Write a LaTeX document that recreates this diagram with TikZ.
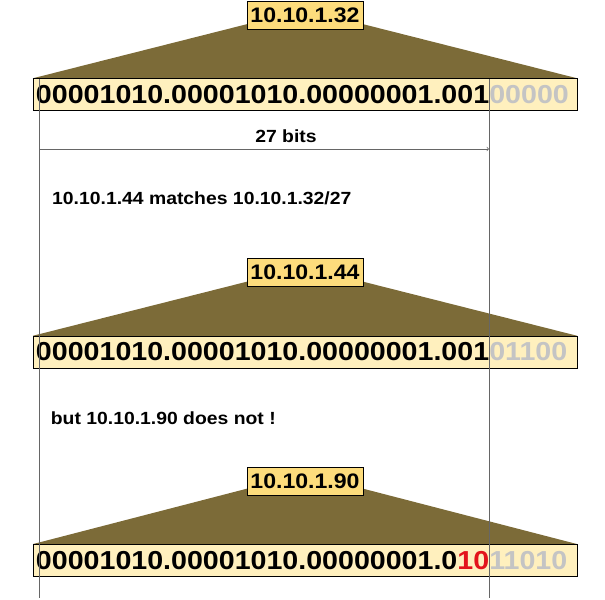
\documentclass[tikz,border=0pt]{standalone}
\usepackage{fontspec}
\setmainfont{Liberation Sans}[FakeStretch=1.1]
\usetikzlibrary{backgrounds}
\definecolor{cone}{HTML}{7C6B38}
\definecolor{addrfill}{HTML}{FDDC7C}
\definecolor{bitsfill}{HTML}{FFF0BE}
\definecolor{hostbits}{HTML}{C4C4C4}
\definecolor{badbits}{HTML}{E3141B}

\begin{document}
\begin{tikzpicture}[x=1bp, y=-1bp,
	addr/.style={draw, fill=addrfill, minimum width=116bp, minimum height=28bp, inner sep=0pt, font=\fontsize{21bp}{24bp}\selectfont\bfseries},
	bits/.style={draw, fill=bitsfill, minimum height=32bp, text width=538bp, align=left, inner xsep=3bp, inner ysep=0pt, font=\fontsize{26bp}{30bp}\selectfont\bfseries},
	note/.style={inner sep=0pt, font=\fontsize{17.6bp}{20bp}\selectfont\bfseries},
	cut/.style={draw=black!60, line width=0.7bp}]
	\useasboundingbox (0,0) rectangle (605,600);

	\node [addr] (a1) at (305,15) {10.10.1.32};
	\node [bits] (b1) at (305,94.5) {00001010.00001010.00000001.001\textcolor{hostbits}{00000}};
	\node [note, anchor=base] (len) at (286,143) {27 bits};
	\node [note, anchor=base west] (yes) at (52,204.3) {10.10.1.44 matches 10.10.1.32/27};

	\node [addr] (a2) at (305,272.5) {10.10.1.44};
	\node [bits] (b2) at (305,352) {00001010.00001010.00000001.001\textcolor{hostbits}{01100}};
	\node [note, anchor=base west] (no) at (50.7,424) {but 10.10.1.90 does not !};

	\node [addr] (a3) at (305,481.5) {10.10.1.90};
	\node [bits] (b3) at (305,560.3) {00001010.00001010.00000001.0\textcolor{badbits}{10}\textcolor{hostbits}{11010}};

	\begin{scope}[on background layer]
		\fill [cone] ([yshift=5bp]a1.south west) -- ([yshift=5bp]a1.south east) -- (b1.north east) -- (b1.north west) -- cycle;
		\fill [cone] ([yshift=5bp]a2.south west) -- ([yshift=5bp]a2.south east) -- (b2.north east) -- (b2.north west) -- cycle;
		\fill [cone] ([yshift=7bp]a3.south west) -- ([yshift=7bp]a3.south east) -- (b3.north east) -- (b3.north west) -- cycle;
	\end{scope}

	\coordinate (l1) at (39.5,79);
	\coordinate (l2) at (39.5,598);
	\coordinate (r1) at (489,79);
	\coordinate (r2) at (489,598);
	\coordinate (al) at (39.5,149);
	\coordinate (ar) at (489,149);
	\draw [cut] (l1) -- (l2);
	\draw [cut] (r1) -- (r2);
	\draw [cut, ->] (al) -- (ar);
\end{tikzpicture}
\end{document}
